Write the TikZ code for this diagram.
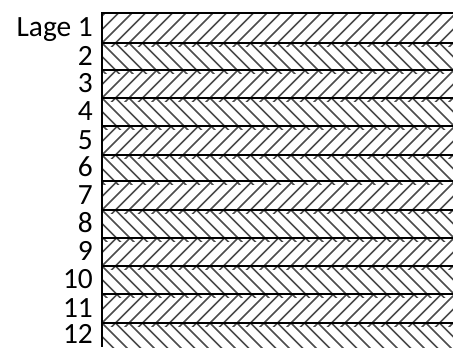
\documentclass[tikz,border=0pt]{standalone}
\usepackage{fontspec}
\setmainfont{Carlito}
\begin{document}
\begin{tikzpicture}[x=1bp,y=-1bp,
  hatch/.style={line width=1.7bp, black!70},
  layerline/.style={line width=2.2bp, black},
  lab/.style={anchor=base east, font=\fontsize{29.5}{29.5}\selectfont, inner sep=0pt}]
\useasboundingbox (0,0) rectangle (453,347);
\foreach \t/\b/\n/\txt in {13/43/1/Lage 1, 43/70/2/2, 70/98/3/3, 98/126/4/4, 126/155/5/5, 155/181/6/6, 181/210/7/7, 210/238/8/8, 238/266/9/9, 266/294/10/10, 294/323/11/11, 323/347/12/12}{
  \begin{scope}
    \clip (102,\t) rectangle (453,\b+3);
    \foreach \k in {-4,...,28}{
      \pgfmathsetmacro\xa{102+13.5*\k}
      \ifodd\n
        \draw[hatch] (\xa-20,\b+20) -- (\xa+45,\b-45);
      \else
        \draw[hatch] (\xa-20,\t-20) -- (\xa+45,\t+45);
      \fi
    }
  \end{scope}
  \draw[layerline] (102,\t) -- (453,\t);
  \node[lab] (l\n) at (93,{(\t+\b)/2+8.5}) {\txt};
}
\draw[layerline] (102,12) -- (102,347);
\end{tikzpicture}
\end{document}
